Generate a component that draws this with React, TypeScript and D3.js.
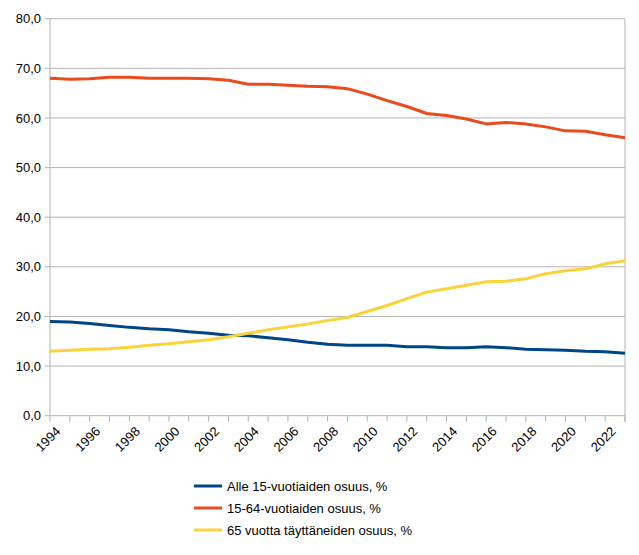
import * as d3 from 'd3';

const years = d3.range(1994, 2024);

const alle15 = [
  19.0, 18.9, 18.6, 18.2, 17.8, 17.5, 17.3, 16.9, 16.6, 16.2,
  16.1, 15.7, 15.3, 14.8, 14.4, 14.2, 14.2, 14.2, 13.9, 13.9,
  13.7, 13.7, 13.9, 13.7, 13.4, 13.3, 13.2, 13.0, 12.9, 12.6,
];

const v15_64 = [
  68.0, 67.8, 67.9, 68.2, 68.2, 68.0, 68.0, 68.0, 67.9, 67.6,
  66.8, 66.8, 66.6, 66.4, 66.3, 65.9, 64.8, 63.5, 62.3, 60.9,
  60.5, 59.8, 58.8, 59.1, 58.8, 58.2, 57.4, 57.3, 56.6, 56.0,
];

const yli65 = [
  13.0, 13.2, 13.4, 13.5, 13.8, 14.2, 14.5, 14.9, 15.3, 15.9,
  16.6, 17.3, 17.9, 18.5, 19.2, 19.8, 21.0, 22.2, 23.6, 24.9,
  25.6, 26.3, 27.0, 27.1, 27.6, 28.6, 29.2, 29.6, 30.6, 31.2,
];

const series = [
  { name: 'Alle 15-vuotiaiden osuus, %', values: alle15, color: '#004586' },
  { name: '15-64-vuotiaiden osuus, %', values: v15_64, color: '#ea4a1c' },
  { name: '65 vuotta täyttäneiden osuus, %', values: yli65, color: '#fbd23a' },
];

const yTicks = d3.range(0, 90, 10);
const xLabels = d3.range(1994, 2023, 2);

const W = 639;
const H = 555;
const PLOT = { left: 50, top: 18.7, right: 625, bottom: 415.7 };
const FONT = '"Liberation Sans", Arial, sans-serif';

export default function App() {
  const x = d3.scaleLinear().domain([1994, 2023]).range([PLOT.left, PLOT.right]);
  const y = d3.scaleLinear().domain([0, 80]).range([PLOT.bottom, PLOT.top]);
  const fmt = (v: number) => d3.format('.1f')(v).replace('.', ',');

  const line = d3
    .line<number>()
    .x((_, i) => x(years[i]))
    .y(d => y(d));

  return (
    <svg
      width={W}
      height={H}
      style={{ position: 'absolute', left: 0, top: 0, background: '#fff' }}
      fontFamily={FONT}
    >
      {/* grid */}
      {yTicks.map(t => (
        <g key={t}>
          <line x1={PLOT.left - 5} x2={PLOT.right} y1={y(t)} y2={y(t)} stroke="#b3b3b3" strokeWidth={1} />
          <text x={PLOT.left - 9} y={y(t)} dy="0.35em" textAnchor="end" fontSize={13} fill="#000">
            {fmt(t)}
          </text>
        </g>
      ))}
      {/* axes */}
      <line x1={PLOT.left} x2={PLOT.left} y1={PLOT.top} y2={PLOT.bottom} stroke="#b3b3b3" />
      <line x1={PLOT.right} x2={PLOT.right} y1={PLOT.top} y2={PLOT.bottom + 6} stroke="#b3b3b3" />
      {years.map(yr => (
        <line key={yr} x1={x(yr)} x2={x(yr)} y1={PLOT.bottom} y2={PLOT.bottom + 6} stroke="#b3b3b3" />
      ))}
      {xLabels.map(yr => (
        <text
          key={yr}
          transform={`translate(${x(yr) + 5},${PLOT.bottom + 10}) rotate(-45)`}
          textAnchor="end"
          dy="0.7em"
          fontSize={13}
          fill="#000"
        >
          {yr}
        </text>
      ))}
      {/* lines */}
      {series.map(s => (
        <path
          key={s.name}
          d={line(s.values) ?? ''}
          fill="none"
          stroke={s.color}
          strokeWidth={3}
          strokeLinejoin="round"
        />
      ))}
      {/* legend */}
      {series.map((s, i) => (
        <g key={s.name} transform={`translate(194,${486 + i * 22})`}>
          <line x1={0} x2={28} y1={0} y2={0} stroke={s.color} strokeWidth={3} />
          <text x={33} y={0} dy="0.35em" fontSize={13} fill="#000">
            {s.name}
          </text>
        </g>
      ))}
    </svg>
  );
}
